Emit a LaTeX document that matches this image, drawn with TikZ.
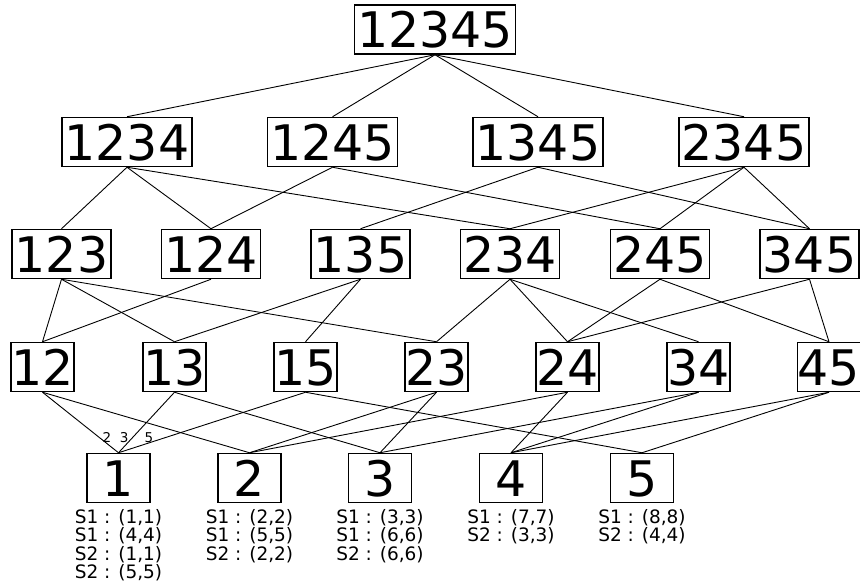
\documentclass[tikz,border=0pt]{standalone}
\usepackage{fontspec}
\setmainfont{DejaVu Sans}
\usetikzlibrary{positioning}

\tikzset{
  setbox/.style={draw, line width=1.5pt, inner sep=0pt, minimum height=49pt,
    text height=37pt, text depth=0pt, font=\fontsize{49}{50}\selectfont},
  link/.style={line width=0.9pt},
  elab/.style={inner sep=0pt, font=\fontsize{13.5}{14}\selectfont},
  pairs/.style={align=center, inner sep=0pt, font=\fontsize{18.5}{18.3}\selectfont},
}

\begin{document}
\begin{tikzpicture}[x=1pt, y=-1pt]
    \useasboundingbox (0,0) rectangle (860,586);

    % top
    \node[setbox, minimum width=161] (n12345) at (435, 29.5) {12345};

    % four elements
    \node[setbox, minimum width=130] (n1234) at (127, 142) {1234};
    \node[setbox, minimum width=130] (n1245) at (332.5, 142) {1245};
    \node[setbox, minimum width=130] (n1345) at (538, 142) {1345};
    \node[setbox, minimum width=130] (n2345) at (744, 142) {2345};

    % three elements
    \node[setbox, minimum width=99] (n123) at (61.5, 254) {123};
    \node[setbox, minimum width=99] (n124) at (211, 254) {124};
    \node[setbox, minimum width=99] (n135) at (360.5, 254) {135};
    \node[setbox, minimum width=99] (n234) at (510, 254) {234};
    \node[setbox, minimum width=99] (n245) at (660, 254) {245};
    \node[setbox, minimum width=99] (n345) at (809.5, 254) {345};

    % two elements
    \node[setbox, minimum width=63] (n12) at (42.5, 367) {12};
    \node[setbox, minimum width=63] (n13) at (174.5, 367) {13};
    \node[setbox, minimum width=63] (n15) at (305.5, 367) {15};
    \node[setbox, minimum width=63] (n23) at (436.5, 367) {23};
    \node[setbox, minimum width=63] (n24) at (567.5, 367) {24};
    \node[setbox, minimum width=63] (n34) at (698.5, 367) {34};
    \node[setbox, minimum width=63] (n45) at (829, 367) {45};

    % single elements
    \node[setbox, minimum width=63] (n1) at (118.5, 478) {1};
    \node[setbox, minimum width=63] (n2) at (249.5, 478) {2};
    \node[setbox, minimum width=63] (n3) at (380, 478) {3};
    \node[setbox, minimum width=63] (n4) at (511, 478) {4};
    \node[setbox, minimum width=63] (n5) at (642, 478) {5};

    % pairs under the singles
    \node[pairs, below=6pt of n1] (p1) {S1 : (1,1)\\S1 : (4,4)\\S2 : (1,1)\\S2 : (5,5)};
    \node[pairs, below=6pt of n2] (p2) {S1 : (2,2)\\S1 : (5,5)\\S2 : (2,2)};
    \node[pairs, below=6pt of n3] (p3) {S1 : (3,3)\\S1 : (6,6)\\S2 : (6,6)};
    \node[pairs, below=6pt of n4] (p4) {S1 : (7,7)\\S2 : (3,3)};
    \node[pairs, below=6pt of n5] (p5) {S1 : (8,8)\\S2 : (4,4)};

    % links top -> four
    \draw[link] (n12345.south) -- (n1234.north);
    \draw[link] (n12345.south) -- (n1245.north);
    \draw[link] (n12345.south) -- (n1345.north);
    \draw[link] (n12345.south) -- (n2345.north);

    % links four -> three
    \draw[link] (n1234.south) -- (n123.north);
    \draw[link] (n1234.south) -- (n124.north);
    \draw[link] (n1234.south) -- (n234.north);
    \draw[link] (n1245.south) -- (n124.north);
    \draw[link] (n1245.south) -- (n245.north);
    \draw[link] (n1345.south) -- (n135.north);
    \draw[link] (n1345.south) -- (n345.north);
    \draw[link] (n2345.south) -- (n234.north);
    \draw[link] (n2345.south) -- (n245.north);
    \draw[link] (n2345.south) -- (n345.north);

    % links three -> two
    \draw[link] (n123.south) -- (n12.north);
    \draw[link] (n123.south) -- (n13.north);
    \draw[link] (n123.south) -- (n23.north);
    \draw[link] (n124.south) -- (n12.north);
    \draw[link] (n135.south) -- (n13.north);
    \draw[link] (n135.south) -- (n15.north);
    \draw[link] (n234.south) -- (n23.north);
    \draw[link] (n234.south) -- (n24.north);
    \draw[link] (n234.south) -- (n34.north);
    \draw[link] (n245.south) -- (n24.north);
    \draw[link] (n245.south) -- (n45.north);
    \draw[link] (n345.south) -- (n24.north);
    \draw[link] (n345.south) -- (n45.north);

    % links two -> one
    \draw[link] (n12.south) -- node[elab, pos=0.744, right=3.2pt] {2} (n1.north);
    \draw[link] (n13.south) -- node[elab, pos=0.744, left=4pt] {3} (n1.north);
    \draw[link] (n15.south) -- node[elab, pos=0.744, left=12.6pt] {5} (n1.north);
    \draw[link] (n12.south) -- (n2.north);
    \draw[link] (n13.south) -- (n3.north);
    \draw[link] (n15.south) -- (n5.north);
    \draw[link] (n23.south) -- (n2.north);
    \draw[link] (n23.south) -- (n3.north);
    \draw[link] (n24.south) -- (n2.north);
    \draw[link] (n24.south) -- (n4.north);
    \draw[link] (n34.south) -- (n3.north);
    \draw[link] (n34.south) -- (n4.north);
    \draw[link] (n45.south) -- (n4.north);
    \draw[link] (n45.south) -- (n5.north);
\end{tikzpicture}
\end{document}
